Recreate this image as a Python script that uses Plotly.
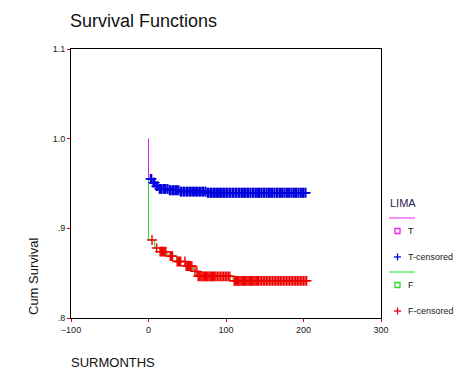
import plotly.graph_objects as go

# ---- data ----
t_step_time = [0, 0, 5, 9, 13, 26, 40, 75, 206]
t_step_surv = [1.0, 0.955, 0.951, 0.947, 0.944, 0.9425, 0.941, 0.9397, 0.9397]

f_step_time = [0, 0, 8, 15, 25, 36, 48, 58, 63, 109, 205]
f_step_surv = [1.0, 0.887, 0.878, 0.874, 0.869, 0.863, 0.858, 0.852, 0.8465, 0.8415, 0.8415]

t_censored = [2.5, 4, 6, 7, 8, 10, 11, 12, 14, 15, 16, 17, 19, 20, 21, 22, 24, 25, 27, 28,
              29, 31, 32, 33, 35, 36, 37, 39, 41, 42, 43, 45, 46, 47, 49, 50, 51, 53, 54, 55,
              57, 58, 59, 61, 62, 63, 65, 66, 67, 69, 70, 71, 73, 74, 76, 77, 78, 80, 81, 82,
              84, 85, 86, 88, 89, 90, 92, 93, 94, 96, 97, 98, 100, 101, 102, 104, 105, 106,
              108, 109, 110, 112, 113, 114, 116, 117, 118, 120, 121, 123, 124, 125, 127, 128,
              129, 131, 132, 134, 135, 136, 138, 139, 141, 142, 143, 145, 146, 148, 149, 150,
              152, 153, 155, 156, 157, 159, 160, 162, 163, 165, 166, 167, 169, 170, 172, 173,
              175, 176, 178, 179, 181, 182, 184, 185, 187, 188, 190, 191, 193, 194, 196, 197,
              199, 200, 202, 203]
f_censored = [4.5, 10.5, 15, 16.5, 18, 19.5, 21, 22.5, 28, 29.5, 31, 37, 38.5, 40, 41.5,
              47, 48.5, 50, 51.5, 53, 54.5, 56, 60, 62.5, 64, 65.5, 67.5, 69, 70.5, 72, 73.5,
              75, 76.5, 78, 79.5, 81, 82.5, 84, 85.5, 87, 89, 91, 93, 95, 97, 99, 101, 103,
              105, 110.5, 112, 113.5, 115, 116.5, 118, 119.5, 121, 122.5, 124, 125.5, 127,
              128.5, 130, 131.5, 133, 134.5, 136, 137.5, 139, 140.5, 142, 144, 146, 148, 150,
              152, 154, 156, 158, 160, 162, 164, 166, 168, 170, 172, 174, 176, 178, 180, 182,
              184, 186, 188, 190, 192, 194, 196, 198, 200, 202, 204]

x_ticks = [-100, 0, 100, 200, 300]
y_ticks = [0.8, 0.9, 1.0, 1.1]
y_tick_text = ['.8', '.9', '1.0', '1.1']


def surv_at(times, survs, t):
    s = survs[0]
    for tt, ss in zip(times, survs):
        if tt <= t:
            s = ss
    return s


t_cens_y = [surv_at(t_step_time, t_step_surv, t) for t in t_censored]
f_cens_y = [surv_at(f_step_time, f_step_surv, t) for t in f_censored]

fig = go.Figure()
fig.add_trace(go.Scatter(x=f_step_time, y=f_step_surv, mode='lines',
                         line=dict(color='#22dd22', width=1, shape='hv'), name='F'))
fig.add_trace(go.Scatter(x=t_step_time, y=t_step_surv, mode='lines',
                         line=dict(color='#ee22ee', width=1, shape='hv'), name='T'))
fig.add_trace(go.Scatter(x=t_censored, y=t_cens_y, mode='markers', name='T-censored',
                         marker=dict(symbol='cross-thin', size=7,
                                     line=dict(color='#0000dd', width=1.4))))
fig.add_trace(go.Scatter(x=f_censored, y=f_cens_y, mode='markers', name='F-censored',
                         marker=dict(symbol='cross-thin', size=7,
                                     line=dict(color='#ee0000', width=1.4))))

# page offset from the body margin
OX, OY = 8, 8
W, H = 476 - 2 * OX, 381 - 2 * OY
PL, PR, PT, PB = 71 - OX, 381 - OX, 49 - OY, 318 - OY


def px(x):
    return (x - OX - PL) / (PR - PL)


def py(y):
    return (PB - (y - OY)) / (PB - PT)


shapes = []
annotations = []
font_small = dict(family='Arial, Liberation Sans, sans-serif', size=9, color='#222')

# legend
annotations.append(dict(x=px(388), y=py(203), xref='paper', yref='paper', text='LIMA',
                        showarrow=False, xanchor='left', yanchor='middle',
                        font=dict(family='Arial, Liberation Sans, sans-serif', size=11, color='#302050')))
shapes.append(dict(type='line', xref='paper', yref='paper', x0=px(389), x1=px(415),
                   y0=py(218), y1=py(218), line=dict(color='#ee22ee', width=1)))
shapes.append(dict(type='line', xref='paper', yref='paper', x0=px(389), x1=px(415),
                   y0=py(272), y1=py(272), line=dict(color='#22dd22', width=1)))
shapes.append(dict(type='rect', xref='paper', yref='paper', x0=px(395), x1=px(400),
                   y0=py(233.5), y1=py(228.5), line=dict(color='#ee22ee', width=1.3)))
shapes.append(dict(type='rect', xref='paper', yref='paper', x0=px(395), x1=px(400),
                   y0=py(287.5), y1=py(282.5), line=dict(color='#22dd22', width=1.3)))
for yc, col in [(257, '#0000dd'), (311, '#ee0000')]:
    shapes.append(dict(type='line', xref='paper', yref='paper', x0=px(394), x1=px(401),
                       y0=py(yc), y1=py(yc), line=dict(color=col, width=1.3)))
    shapes.append(dict(type='line', xref='paper', yref='paper', x0=px(397.5), x1=px(397.5),
                       y0=py(yc - 3.5), y1=py(yc + 3.5), line=dict(color=col, width=1.3)))
for yc, txt in [(231, 'T'), (257, 'T-censored'), (285, 'F'), (311, 'F-censored')]:
    annotations.append(dict(x=px(406), y=py(yc), xref='paper', yref='paper', text=txt,
                            showarrow=False, xanchor='left', yanchor='middle', font=font_small))

# axis titles
annotations.append(dict(x=px(33), y=py(277), xref='paper', yref='paper', text='Cum Survival',
                        showarrow=False, textangle=-90, xanchor='center', yanchor='middle',
                        font=dict(family='Arial, Liberation Sans, sans-serif', size=13, color='#111')))
annotations.append(dict(x=px(69), y=py(362), xref='paper', yref='paper', text='SURMONTHS',
                        showarrow=False, xanchor='left', yanchor='middle',
                        font=dict(family='Arial, Liberation Sans, sans-serif', size=13, color='#111')))

fig.update_layout(
    width=W, height=H,
    margin=dict(l=PL, r=W - PR, t=PT, b=H - PB),
    paper_bgcolor='white', plot_bgcolor='white',
    showlegend=False,
    title=dict(text='Survival Functions', x=(70 - OX) / W, xanchor='left',
               y=1 - (21 - OY) / H, yanchor='middle',
               font=dict(family='Arial, Liberation Sans, sans-serif', size=18, color='#111')),
    xaxis=dict(range=[-100, 300], tickvals=x_ticks, ticks='outside', ticklen=3, tickcolor='#ee0000',
               showline=True, linecolor='black', linewidth=1, mirror=True, showgrid=False,
               zeroline=False, tickfont=font_small),
    yaxis=dict(range=[0.8, 1.1], tickvals=y_ticks, ticktext=y_tick_text, ticks='outside', ticklen=3,
               tickcolor='#ee0000', showline=True, linecolor='black', linewidth=1, mirror=True,
               showgrid=False, zeroline=False, tickfont=font_small),
    shapes=shapes, annotations=annotations,
)

fig.write_html('out.html')
